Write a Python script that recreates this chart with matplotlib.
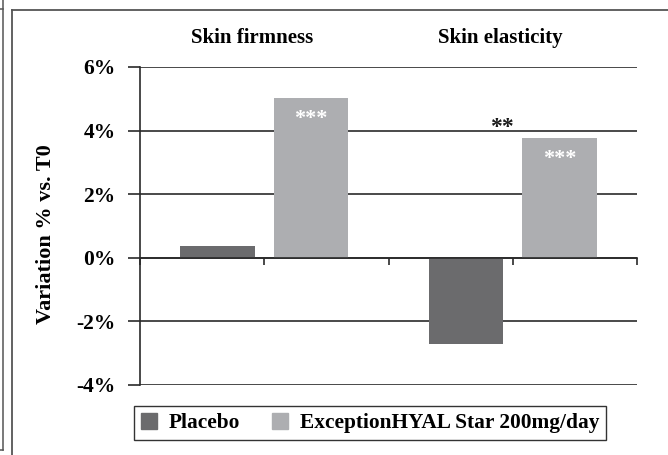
import matplotlib.pyplot as plt
from matplotlib.patches import Patch
import numpy as np

# data
categories = ['Skin firmness', 'Skin elasticity']
series = ['Placebo', 'ExceptionHYAL Star 200mg/day']
placebo = [0.36, -2.70]
exception = [5.04, 3.78]
star_in_bar = ['***', '***']
yticks = [-4, -2, 0, 2, 4, 6]
ytick_labels = ['-4%', '-2%', '0%', '2%', '4%', '6%']

col_placebo = '#6b6b6d'
col_exception = '#adaeb1'
line_col = '#2a2a2a'

plt.rcParams['font.family'] = ['Liberation Serif', 'DejaVu Serif']
plt.rcParams['font.weight'] = 'bold'

W, H = 668, 455
fig = plt.figure(figsize=(W / 100, H / 100), dpi=100)

# outer frames
fig.add_artist(plt.Line2D([12 / W, 12 / W], [0, 1 - 10 / H], color='#555555', lw=1.3))
fig.add_artist(plt.Line2D([12 / W, 1], [1 - 10 / H, 1 - 10 / H], color='#555555', lw=1.3))
fig.add_artist(plt.Line2D([3 / W, 3 / W], [1 - 450 / H, 1], color='#555555', lw=1.1))
fig.add_artist(plt.Line2D([0, 3 / W], [1 - 450 / H, 1 - 450 / H], color='#555555', lw=1.1))
fig.add_artist(plt.Line2D([0, 3 / W], [1 - 9 / H, 1 - 9 / H], color='#555555', lw=1.1))

ax = fig.add_axes([140 / W, (H - 385) / H, (637 - 140) / W, (385 - 67) / H])

x = np.arange(len(categories))
w = 0.30
off = 0.1875
b1 = ax.bar(x - off, placebo, w, color=col_placebo, zorder=2)
b2 = ax.bar(x + off, exception, w, color=col_exception, zorder=2)

for xi, val, s in zip(x, exception, star_in_bar):
    ax.text(xi + off, val - 0.68, s, color='white', ha='center', va='center',
            fontsize=16, fontweight='bold')
ax.text(0.955, 4.1, '**', color='#1a1a1a', ha='center', va='center',
        fontsize=17, fontweight='bold')

ax.set_xlim(-0.5, 1.5)
ax.set_ylim(-4, 6)
ax.set_yticks(yticks)
ax.set_yticklabels(ytick_labels, fontsize=15.5, fontweight='bold')
ax.yaxis.grid(True, color=line_col, lw=1.2, zorder=1)
ax.tick_params(axis='y', length=8.6, width=1.2, color=line_col, pad=9)

ax.spines['bottom'].set_position(('data', 0))
ax.spines['bottom'].set_color(line_col)
ax.spines['bottom'].set_linewidth(1.2)
ax.spines['left'].set_color(line_col)
ax.spines['left'].set_linewidth(1.2)
ax.spines['top'].set_visible(False)
ax.spines['right'].set_visible(False)
ax.set_xticks([-0.5, 0, 0.5, 1, 1.5])
ax.set_xticklabels([])
ax.tick_params(axis='x', length=5, width=1.2, color=line_col, direction='out')

ax.set_ylabel('Variation % vs. T0', fontsize=16, fontweight='bold')
ax.yaxis.set_label_coords(-84 / 497, 0.475)

for xi, name in zip(x, categories):
    ax.text(xi - 0.05, 1.0 + 29 / 318, name, transform=ax.get_xaxis_transform(),
            ha='center', va='center', fontsize=15, fontweight='bold')

handles = [Patch(color=col_placebo), Patch(color=col_exception)]
leg = fig.legend(handles, series, loc='center', bbox_to_anchor=(370 / W, 1 - 423 / H),
                 ncol=2, frameon=True, fancybox=False, edgecolor='black',
                 handlelength=0.75, handleheight=0.75, handletextpad=0.55,
                 columnspacing=1.5, borderpad=0.3, borderaxespad=0,
                 prop={'family': 'Liberation Serif', 'weight': 'bold', 'size': 15.4})
leg.get_frame().set_linewidth(1.0)

fig.savefig('out.png', dpi=100)
